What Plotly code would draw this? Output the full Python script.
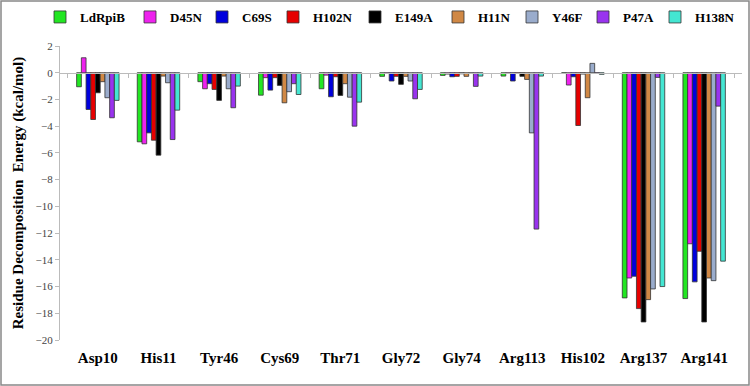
import plotly.graph_objects as go

residues = ["Asp10", "His11", "Tyr46", "Cys69", "Thr71", "Gly72", "Gly74", "Arg113", "His102", "Arg137", "Arg141"]
series_names = ["LdRpiB", "D45N", "C69S", "H102N", "E149A", "H11N", "Y46F", "P47A", "H138N"]

LdRpiB = [-1.05, -5.17, -0.67, -1.68, -1.2, -0.27, -0.2, -0.25, -0.03, -16.85, -16.9]
D45N   = [1.12, -5.32, -1.2, -0.37, -0.18, -0.05, -0.1, -0.05, -0.92, -15.36, -12.8]
C69S   = [-2.75, -4.5, -0.82, -1.3, -1.8, -0.62, -0.3, -0.62, -0.3, -15.23, -15.65]
H102N  = [-3.5, -5.05, -1.25, -0.37, -0.3, -0.27, -0.27, -0.05, -3.95, -17.65, -13.36]
E149A  = [-1.5, -6.17, -2.07, -0.95, -1.7, -0.87, -0.08, -0.27, -0.1, -18.65, -18.65]
H11N   = [-0.67, -0.25, -0.25, -2.25, -0.82, -0.27, -0.27, -0.5, -1.87, -16.98, -15.36]
Y46F   = [-1.87, -0.75, -1.2, -1.42, -1.83, -0.62, -0.05, -4.5, 0.7, -16.18, -15.56]
P47A   = [-3.37, -5.0, -2.62, -0.82, -4.0, -1.95, -1.02, -11.7, -0.03, -0.35, -2.5]
H138N  = [-2.07, -2.8, -1.0, -1.63, -2.2, -1.25, -0.25, -0.25, -0.12, -16.0, -14.1]

series_values = [LdRpiB, D45N, C69S, H102N, E149A, H11N, Y46F, P47A, H138N]
colors = ["#22e622", "#ee22ee", "#0000dd", "#e60000", "#000000", "#d08845", "#9aaccc", "#9933ee", "#44e6d2"]

y_min, y_max = -20, 2
y_ticks = list(range(-20, 3, 2))

serif = "Liberation Serif, Times New Roman, serif"

L, R, T, B = 60, 8, 46, 46
W, H = 750, 386
pw, ph = W - L - R, H - T - B

# pixel x of each legend swatch centre (layout only)
legend_px = [59, 149, 221, 292, 374, 457, 531, 602, 674]
legend_ids = ["legend"] + [f"legend{i}" for i in range(2, len(series_names) + 1)]

fig = go.Figure()
for name, vals, col, lid in zip(series_names, series_values, colors, legend_ids):
    fig.add_trace(go.Bar(
        x=residues, y=vals, name=name, legend=lid,
        marker=dict(color=col, line=dict(color="#333333", width=0.8)),
    ))

# invisible trace for the zero-line category axis
fig.add_trace(go.Scatter(x=residues, y=[0] * len(residues), xaxis="x2", mode="markers",
                         marker=dict(opacity=0), showlegend=False, hoverinfo="skip"))

legend_layout = {}
for lid, px in zip(legend_ids, legend_px):
    legend_layout[lid] = dict(
        orientation="h", x=(px - 19 - L) / pw, xanchor="left",
        y=1 + 29 / ph, yanchor="middle",
        font=dict(family=serif, size=13, color="#000", weight="bold"),
        itemwidth=30, bgcolor="rgba(0,0,0,0)",
    )

fig.update_layout(
    width=W, height=H,
    margin=dict(l=L, r=R, t=T, b=B, autoexpand=False),
    paper_bgcolor="white", plot_bgcolor="white",
    barmode="group", bargap=0.3, bargroupgap=0,
    font=dict(family=serif, color="#000"),
    showlegend=True,
    **legend_layout,
    xaxis=dict(
        type="category", showline=False, ticks="", showgrid=False, zeroline=False,
        tickfont=dict(family=serif, size=15, color="#000", weight="bold"),
        ticklabelstandoff=7,
    ),
    xaxis2=dict(
        overlaying="x", matches="x", anchor="free",
        position=(0 - y_min) / (y_max - y_min),
        side="bottom", showline=True, linecolor="#bbbbbb", linewidth=1,
        ticks="outside", tickson="boundaries", ticklen=4, tickcolor="#bbbbbb",
        showticklabels=False, showgrid=False, zeroline=False,
    ),
    yaxis=dict(
        range=[y_min, y_max], tickvals=y_ticks, showgrid=False, zeroline=False,
        showline=True, linecolor="#bbbbbb", linewidth=1,
        ticks="outside", ticklen=4, tickcolor="#bbbbbb",
        tickfont=dict(family=serif, size=11, color="#444"),
        title=dict(text="Residue Decomposition  Energy (kcal/mol)",
                   font=dict(family=serif, size=15, color="#000", weight="bold"),
                   standoff=8),
    ),
    shapes=[dict(
        type="rect", xref="paper", yref="paper",
        x0=(-L + 1) / pw, x1=1 + (R - 1) / pw,
        y0=(-B + 1) / ph, y1=1 + (T - 1) / ph,
        line=dict(color="#888888", width=1.5), fillcolor="rgba(0,0,0,0)",
    )],
)

fig.write_html("out.html", config={"displayModeBar": False},
               post_script="document.body.style.margin='0';document.body.style.overflow='hidden';")
